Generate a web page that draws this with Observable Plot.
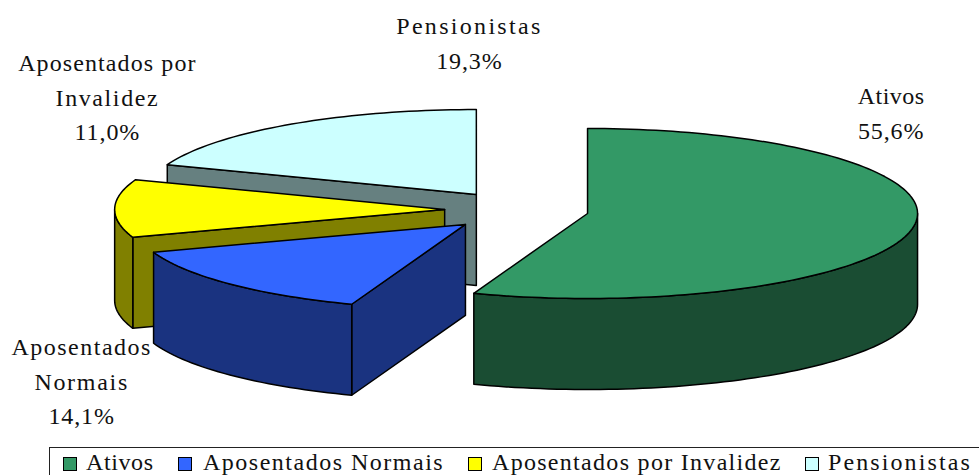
<!DOCTYPE html>
<html>
<head>
<meta charset="utf-8">
<script src="https://cdn.jsdelivr.net/npm/d3@7"></script>
<script src="https://cdn.jsdelivr.net/npm/@observablehq/plot@0.6"></script>
<style>
html,body{margin:0;padding:0;background:#fff;overflow:hidden;width:979px;height:475px}
#chart svg{display:block}
#legend{position:absolute;left:49px;top:447px;width:960px;height:40px;border:1px solid #222;box-sizing:border-box;
  font:24px "Liberation Serif",serif;color:#111}
#legend span{position:absolute;top:1px;white-space:nowrap;line-height:26px}
#legend i{position:absolute;top:9px;width:12px;height:12px;border:1.5px solid #000;display:block}
</style>
</head>
<body>
<div id="chart"></div>
<div id="legend"></div>
<script>
// Data
const categories = ["Ativos", "Aposentados Normais", "Aposentados por Invalidez", "Pensionistas"];
const shares = [55.6, 14.1, 11.0, 19.3];
const labelLines = ["Ativos", "Aposentados\nNormais", "Aposentados por\nInvalidez", "Pensionistas"];

// Style and layout
const topColors = ["#339966", "#3366FF", "#FFFF00", "#CCFFFF"];
const wallColors = ["#1A4D33", "#1A3380", "#808000", "#668080"];
const W = 979, H = 447, cx = 526, cy = 209, rx = 330, ry = 85;
const depth = 91 / ry;
const explodeX = [0.185, -0.185, -0.248, -0.152];
const explodeY = [0.047, 0.176, 0, -0.176];
const labelX = [1.105, -1.348, -1.27, -0.173];
const labelY = [-1.165, 1.988, -1.353, -1.988];
const legendSwatch = [13, 128, 418, 755];
const legendText = [36, 153, 442, 778];
const spacing = {"Ativos": 0.5, "Aposentados": 1.5, "Normais": 1.7, "Aposentados por": 1.1,
  "Invalidez": 1.6, "Pensionistas": 2.3};
const legendSpacing = [0.6, 1.5, 1.3, 2.1];

// Slice geometry in pie-radius units; angle runs clockwise from twelve o'clock
const rad = d => d * Math.PI / 180;
const total = d3.sum(shares);
let acc = 0;
const slices = shares.map((v, i) => {
  const a0 = acc / total * 360; acc += v;
  return {i, a0, a1: acc / total * 360, ox: explodeX[i], oy: explodeY[i]};
});
const rimPoint = (s, a, z = 0) => ({x: s.ox + Math.sin(rad(a)), y: s.oy - Math.cos(rad(a)) + z});
const arc = (s, a0, a1, z = 0) => {
  const n = Math.max(2, Math.ceil((a1 - a0) / 1.5));
  return d3.range(n + 1).map(k => rimPoint(s, a0 + (a1 - a0) * k / n, z));
};
const topFace = s => [{x: s.ox, y: s.oy}, ...arc(s, s.a0, s.a1)];
// outer rim, the part facing the viewer (90deg to 270deg)
const rimWall = s => {
  const a0 = Math.max(s.a0, 90), a1 = Math.min(s.a1, 270);
  if (a1 <= a0) return null;
  return [...arc(s, a0, a1), ...arc(s, a0, a1, depth).reverse()];
};
// flat cut wall on the leading edge of the slice
const cutWall = s => {
  if (s.a0 <= 90 || s.a0 >= 360) return null;
  const p = rimPoint(s, s.a0), q = rimPoint(s, s.a0, depth);
  return [{x: s.ox, y: s.oy}, p, q, {x: s.ox, y: s.oy + depth}];
};

const style = {x: "x", y: "y", stroke: "#000", strokeWidth: 1.5, strokeLinejoin: "round", curve: "linear-closed"};
const marks = [];
for (const i of [3, 2, 1, 0]) {
  const s = slices[i];
  for (const wall of [cutWall(s), rimWall(s)]) {
    if (wall) marks.push(Plot.line(wall, {...style, fill: wallColors[i]}));
  }
  marks.push(Plot.line(topFace(s), {...style, fill: topColors[i]}));
}
const fmt = v => v.toFixed(1).replace(".", ",") + "%";
const labels = categories.map((c, i) => ({
  text: labelLines[i] + "\n" + fmt(shares[i]), x: labelX[i], y: labelY[i]
}));
marks.push(Plot.text(labels, {
  x: "x", y: "y", text: "text", lineHeight: 1.45, fontSize: 24,
  fontFamily: "'Liberation Serif', serif", fill: "#111", textAnchor: "middle", lineAnchor: "middle"
}));

const plot = Plot.plot({
  width: W, height: H, margin: 0, axis: null,
  style: {background: "#fff"},
  x: {domain: [-cx / rx, (W - cx) / rx], range: [0, W]},
  y: {domain: [-cy / ry, (H - cy) / ry], range: [0, H]},
  marks
});
d3.select(plot).selectAll("tspan").each(function () {
  const t = this.textContent;
  this.style.letterSpacing = (spacing[t] ?? 0.9) + "px";
});
document.getElementById("chart").append(plot);

// Legend
const legend = document.getElementById("legend");
categories.forEach((c, i) => {
  const sw = document.createElement("i");
  sw.style.left = legendSwatch[i] + "px";
  sw.style.background = topColors[i];
  legend.append(sw);
  const t = document.createElement("span");
  t.style.left = legendText[i] + "px";
  t.style.letterSpacing = legendSpacing[i] + "px";
  t.textContent = c;
  legend.append(t);
});
</script>
</body>
</html>
